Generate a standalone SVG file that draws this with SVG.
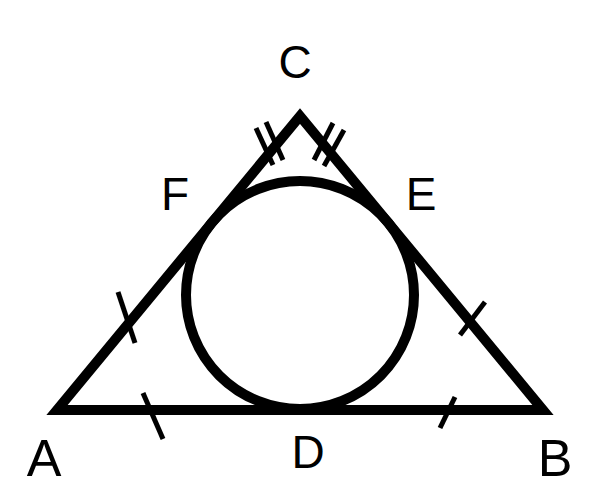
<svg xmlns="http://www.w3.org/2000/svg" width="600" height="503" viewBox="0 0 600 503">
<style>
.edge{fill:none;stroke:#000;stroke-width:10;stroke-linejoin:miter}
.tick{stroke:#000;stroke-width:5;fill:none}
.lbl{font-family:"Liberation Sans",Arial,sans-serif;fill:#000;text-anchor:middle}
</style>
<rect width="600" height="503" fill="#fff"/>
<g id="connectors">
<polygon id="triangle" class="edge" points="57,410 543,410 300,116"/>
<circle id="incircle" class="edge" cx="300" cy="295" r="114"/>
<g id="ticks">
<line class="tick" x1="118" y1="292" x2="135" y2="343"/>
<line class="tick" x1="485" y1="302" x2="460" y2="335"/>
<line class="tick" x1="143" y1="393" x2="163" y2="439"/>
<line class="tick" x1="455" y1="397" x2="440" y2="428"/>
<line class="tick" x1="256" y1="128" x2="273" y2="165"/>
<line class="tick" x1="266" y1="122" x2="283" y2="160"/>
<line class="tick" x1="333" y1="123" x2="314" y2="160"/>
<line class="tick" x1="344" y1="130" x2="324" y2="166"/>
</g>
</g>
<g id="A"><text class="lbl" x="44" y="476" font-size="52">A</text></g>
<g id="B"><text class="lbl" x="555" y="476" font-size="52">B</text></g>
<g id="C"><text class="lbl" x="295" y="78" font-size="46">C</text></g>
<g id="D"><text class="lbl" x="308" y="468" font-size="46">D</text></g>
<g id="E"><text class="lbl" x="421" y="210" font-size="46">E</text></g>
<g id="F"><text class="lbl" x="175" y="210" font-size="46">F</text></g>
</svg>
